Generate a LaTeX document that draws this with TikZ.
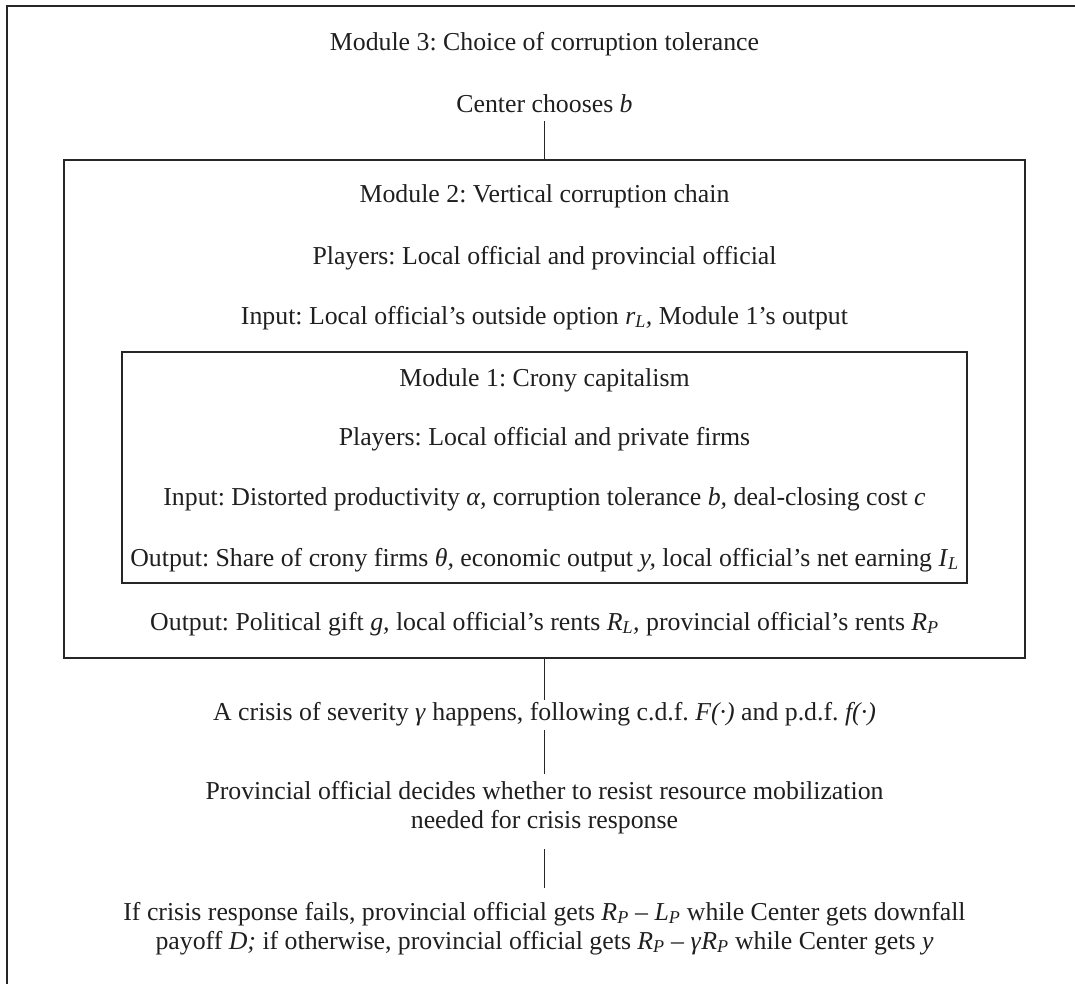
\documentclass[tikz,border=0pt]{standalone}
\usepackage{fontspec}
\setmainfont{Liberation Serif}
\frenchspacing
\newcommand{\mysub}[2]{\textit{#1}\textsubscript{\textit{#2}}}
\tikzset{
  txt/.style={font=\fontsize{25.8}{29}\selectfont, inner sep=0pt, outer sep=0pt, align=center, anchor=base, text=black!88},
  boxln/.style={draw=black!85, line width=1.4pt},
  conn/.style={draw=black!85, line width=1.4pt},
}
\begin{document}
\begin{tikzpicture}[x=1pt,y=1pt]
\useasboundingbox (0,0) rectangle (1075,-984);
% outer (cropped) frame: only left and top edges visible
\coordinate (fbl) at (7,-984);
\coordinate (ftl) at (7,-6);
\coordinate (ftr) at (1075,-6);
\draw[boxln] (fbl) -- (ftl) -- (ftr);
% module boxes
\node[boxln, minimum width=961pt, minimum height=498pt, inner sep=0pt] (m2) at (544.5,-409) {};
\node[boxln, minimum width=845pt, minimum height=231pt, inner sep=0pt] (m1) at (544.5,-467.5) {};
% texts
\node[txt] (m3t) at (544.5,-51) {Module 3: Choice of corruption tolerance};
\node[txt] (cb) at (544.5,-113) {Center chooses \textit{b}};
\node[txt] (m2t) at (544.5,-203) {Module 2: Vertical corruption chain};
\node[txt] (m2p) at (544.5,-264) {Players: Local official and provincial official};
\node[txt] (m2i) at (544.5,-324) {Input: Local official’s outside option \mysub{r}{L}\textit{,} Module 1’s output};
\node[txt] (m1t) at (544.5,-386) {Module 1: Crony capitalism};
\node[txt] (m1p) at (544.5,-445) {Players: Local official and private firms};
\node[txt] (m1i) at (544.5,-505) {Input: Distorted productivity \textit{α,} corruption tolerance \textit{b,} deal-closing cost \textit{c}};
\node[txt] (m1o) at (544.5,-566) {Output: Share of crony firms \textit{θ,} economic output \textit{y,} local official’s net earning \mysub{I}{L}};
\node[txt] (m2o) at (544.5,-630) {Output: Political gift \textit{g,} local official’s rents \mysub{R}{L}\textit{,} provincial official’s rents \mysub{R}{P}};
\node[txt] (cr) at (544.5,-720) {A crisis of severity \textit{γ} happens, following c.d.f. \textit{F(·)} and p.d.f. \textit{f(·)}};
\node[txt] (po) at (544.5,-828) {Provincial official decides whether to resist resource mobilization\\needed for crisis response};
\node[txt] (pay) at (544.5,-949) {If crisis response fails, provincial official gets \mysub{R}{P} – \mysub{L}{P} while Center gets downfall\\payoff \textit{D;} if otherwise, provincial official gets \mysub{R}{P} – \textit{γ}\mysub{R}{P} while Center gets \textit{y}};
% connectors
\draw[conn] ([yshift=-8pt]cb.base) -- (m2.north);
\draw[conn] (m2.south) -- ([yshift=20pt]cr.base);
\draw[conn] ([yshift=-10pt]cr.base) -- ([yshift=54pt]po.base);
\draw[conn] ([yshift=-21pt]po.base) -- ([yshift=61pt]pay.base);
\end{tikzpicture}
\end{document}
